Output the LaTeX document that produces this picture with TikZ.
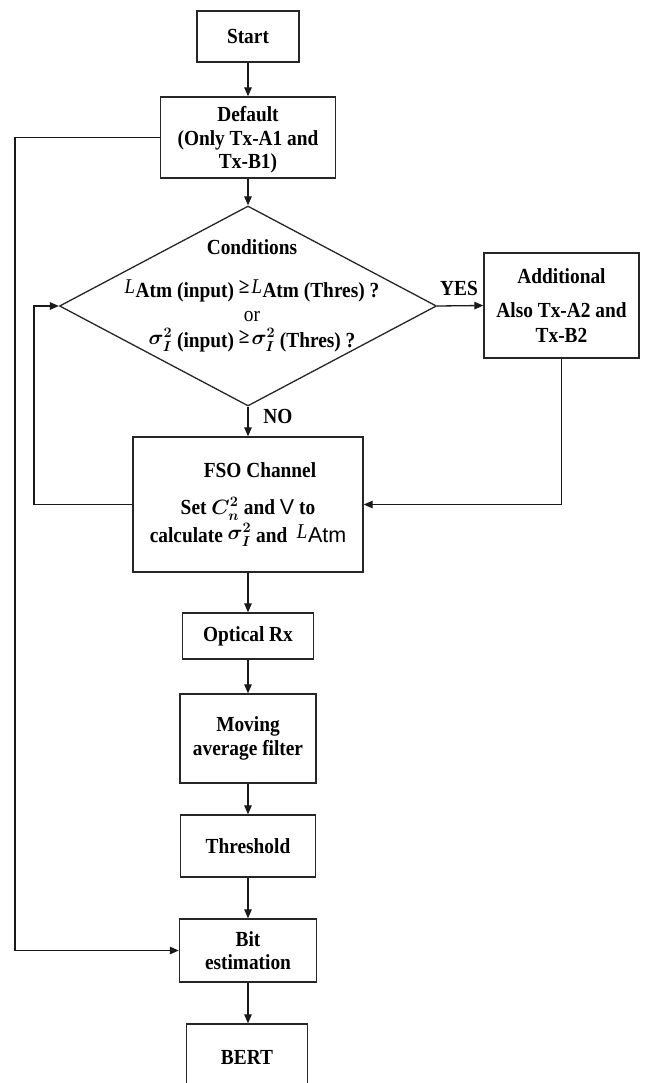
\documentclass[tikz,border=0pt]{standalone}
\usepackage{fontspec}
\usepackage{amsmath}
\setmainfont[FakeStretch=0.9]{Liberation Serif}
\setsansfont{Liberation Sans}
\usetikzlibrary{shapes.geometric,arrows.meta}
\newcommand{\LAtmB}{\raisebox{0.22em}{\fontsize{21}{21}\selectfont\mdseries\itshape L}\kern0.5pt Atm}
\newcommand{\LAtmN}{\raisebox{0.22em}{\fontsize{21}{21}\selectfont\mdseries\itshape L}\kern0.5pt{\mdseries\sffamily Atm}}
\newcommand{\sigB}{\raisebox{0.15em}{$\boldsymbol{\sigma_{I}^{2}}$}}
\newcommand{\geqR}{\raisebox{0.2em}{≥}\kern2pt}
\begin{document}
\begin{tikzpicture}[x=1pt,y=-1pt,
  txt/.style={font=\bfseries\fontsize{21.5}{23.5}\selectfont, align=center},
  blk/.style={txt, draw=black!85, line width=1.4pt, inner sep=0pt},
  ln/.style={line width=1.3pt, draw=black!90},
  arr/.style={ln, -{Triangle[length=9pt,width=7.5pt]}}]
\useasboundingbox (0,0) rectangle (651,1083);
\clip (0,0) rectangle (651,1083);

\node[blk, minimum width=102pt, minimum height=51pt] (start) at (248,36.5) {Start};
\node[blk, minimum width=175pt, minimum height=81pt] (default) at (248,137.5)
  {\rule{0pt}{20pt}Default\\(Only Tx-A1 and\\Tx-B1)};
\node[draw=black!85, line width=1.3pt, diamond, inner sep=0pt,
  minimum width=377pt, minimum height=200pt] (cond) at (248,306) {};
\node[txt] (condtxt) at (252,296)
  {Conditions\\[20pt]
   \LAtmB{} (input) \geqR{}\LAtmB{} (Thres) ?\\
   {\mdseries or}\\[3pt]
   \sigB{} (input) \geqR{}\sigB{} (Thres) ?};
\node[blk, minimum width=155pt, minimum height=105pt] (add) at (561.5,305.5)
  {Additional\\[11pt]Also Tx-A2 and\\[1pt]Tx-B2};
\node[blk, minimum width=230pt, minimum height=135pt] (fso) at (248,504.5)
  {\hspace*{24pt}FSO Channel\\[13pt]
   Set $\boldsymbol{C_{n}^{2}}$ and {\mdseries\sffamily V} to\\[1pt]
   calculate \sigB{} and \ \LAtmN};
\node[blk, minimum width=131pt, minimum height=46pt] (orx) at (248,636) {Optical Rx};
\node[blk, minimum width=136pt, minimum height=89pt] (mav) at (248,738.5)
  {Moving\\average filter};
\node[blk, minimum width=135pt, minimum height=62pt] (thr) at (248,846) {Threshold};
\node[blk, minimum width=137pt, minimum height=63pt] (bit) at (248,950.5)
  {Bit\\estimation};
\node[blk, minimum width=121pt, minimum height=66pt] (bert) at (247,1057) {BERT};

\node[txt] (yes) at (459,288) {YES};
\node[txt] (no) at (278,416) {NO};

\coordinate (lft) at (15,137.5);
\coordinate (loop) at (34,504.5);

\draw[arr] (start) -- (default);
\draw[arr] (default) -- (cond.north);
\draw[arr] (cond.east) -- (add.west);
\draw[arr] (cond.south) -- (fso.north);
\draw[arr] (add.south) |- (fso.east);
\draw[arr] (fso.west) -- (loop) |- (cond.west);
\draw[arr] (default.west) -- (lft) |- (bit.west);
\draw[arr] (fso) -- (orx);
\draw[arr] (orx) -- (mav);
\draw[arr] (mav) -- (thr);
\draw[arr] (thr) -- (bit);
\draw[arr] (bit.south) -- (bit.south |- bert.north);
\end{tikzpicture}
\end{document}
